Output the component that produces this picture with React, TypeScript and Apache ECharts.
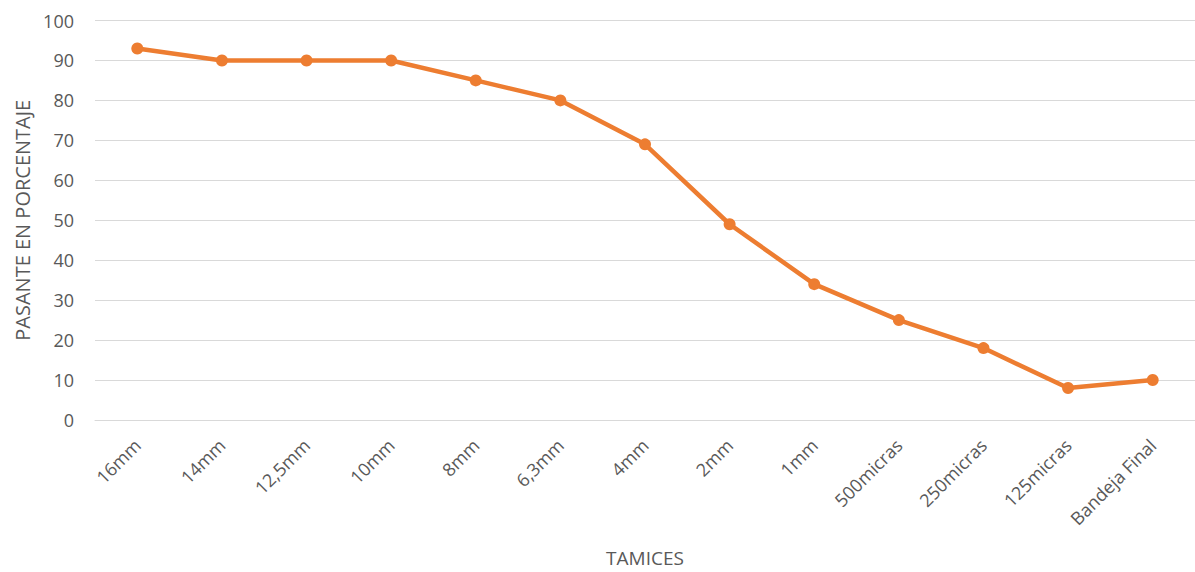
import React, { useEffect, useRef } from "react";
import * as echarts from "echarts";

const categories = ["16mm", "14mm", "12,5mm", "10mm", "8mm", "6,3mm", "4mm", "2mm", "1mm", "500micras", "250micras", "125micras", "Bandeja Final"];
const pasante = [93, 90, 90, 90, 85, 80, 69, 49, 34, 25, 18, 8, 10];
const yTicks = { min: 0, max: 100, interval: 10 };

const FONT = "'Open Sans', 'Liberation Sans', sans-serif";
const GRAY = "#595959";

export default function App() {
  const ref = useRef<HTMLDivElement>(null);
  useEffect(() => {
    if (!ref.current) return;
    const chart = echarts.init(ref.current, null, { renderer: "svg" });
    chart.setOption({
      animation: false,
      backgroundColor: "#ffffff",
      grid: { left: 95, top: 20.5, width: 1105, height: 403.5, containLabel: false },
      xAxis: {
        type: "category",
        data: categories,
        boundaryGap: true,
        axisLine: { show: true, lineStyle: { color: "#d9d9d9", width: 1 } },
        axisTick: { show: false },
        axisLabel: { rotate: 45, margin: 22, color: GRAY, fontSize: 18, fontFamily: FONT, interval: 0 },
        name: "TAMICES",
        nameLocation: "middle",
        nameGap: 128,
        nameTextStyle: { color: GRAY, fontSize: 19, fontFamily: FONT },
      },
      yAxis: {
        type: "value",
        min: yTicks.min,
        max: yTicks.max,
        interval: yTicks.interval,
        axisLine: { show: false },
        axisTick: { show: false },
        splitLine: { lineStyle: { color: "#d9d9d9", width: 1 } },
        axisLabel: { margin: 21, color: GRAY, fontSize: 18, fontFamily: FONT },
        name: "PASANTE EN PORCENTAJE",
        nameLocation: "middle",
        nameGap: 62,
        nameTextStyle: { color: GRAY, fontSize: 20, fontFamily: FONT },
      },
      series: [
        {
          type: "line",
          data: pasante,
          symbol: "circle",
          symbolSize: 12,
          lineStyle: { color: "#ED7D31", width: 4.5 },
          itemStyle: { color: "#ED7D31" },
        },
      ],
    });
    return () => chart.dispose();
  }, []);
  return (
    <div
      ref={ref}
      style={{ position: "fixed", left: 0, top: 0, width: 1195, height: 572, background: "#fff" }}
    />
  );
}
